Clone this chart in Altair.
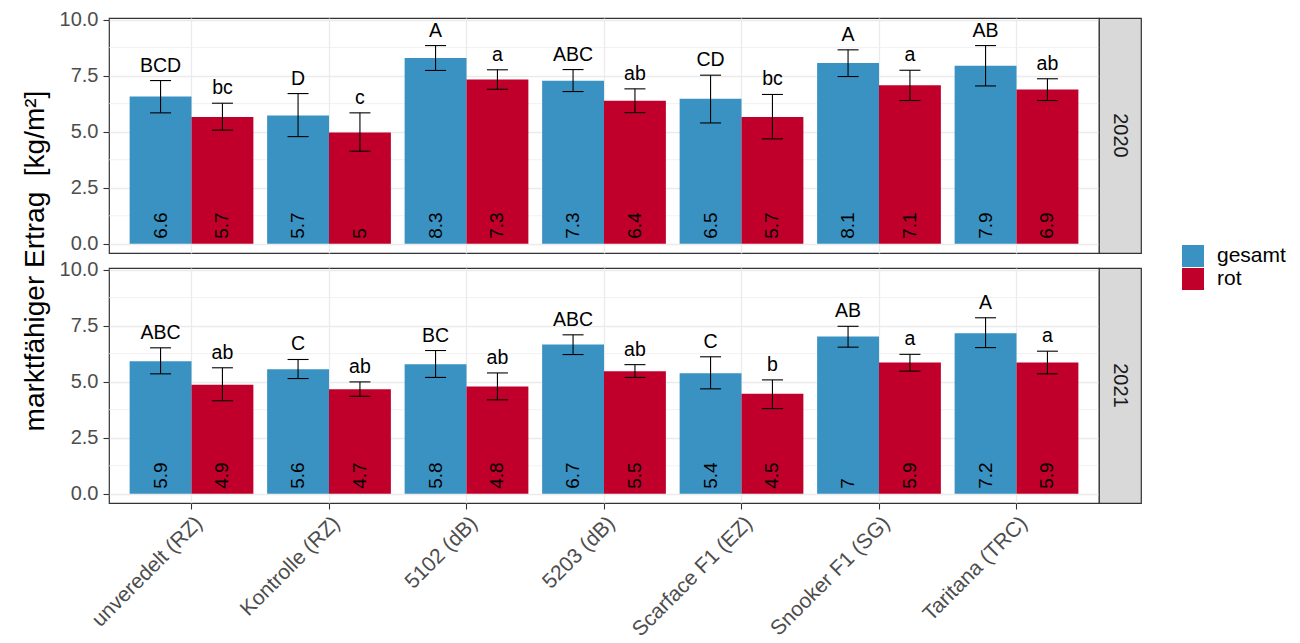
import altair as alt
import pandas as pd

years = ["2020", "2021"]
cats = ["unveredelt (RZ)", "Kontrolle (RZ)", "5102 (dB)", "5203 (dB)",
        "Scarface F1 (EZ)", "Snooker F1 (SG)", "Taritana (TRC)"]
series = ["gesamt", "rot"]
colors = ["#3A92C2", "#C0002A"]

# 2020
g20 = [6.57, 5.72, 8.29, 7.27, 6.47, 8.06, 7.94]
g20_lo = [5.84, 4.78, 7.73, 6.79, 5.39, 7.46, 7.04]
g20_hi = [7.28, 6.70, 8.84, 7.77, 7.52, 8.65, 8.84]
g20_let = ["BCD", "D", "A", "ABC", "CD", "A", "AB"]
r20 = [5.66, 4.96, 7.33, 6.38, 5.66, 7.07, 6.88]
r20_lo = [5.07, 4.13, 6.89, 5.85, 4.68, 6.39, 6.39]
r20_hi = [6.27, 5.84, 7.76, 6.91, 6.66, 7.74, 7.36]
r20_let = ["bc", "c", "a", "ab", "bc", "a", "ab"]
# 2021
g21 = [5.91, 5.56, 5.78, 6.66, 5.38, 7.01, 7.16]
g21_lo = [5.35, 5.14, 5.19, 6.21, 4.68, 6.54, 6.52]
g21_hi = [6.51, 5.99, 6.39, 7.09, 6.11, 7.47, 7.85]
g21_let = ["ABC", "C", "BC", "ABC", "C", "AB", "A"]
r21 = [4.86, 4.66, 4.78, 5.46, 4.46, 5.86, 5.86]
r21_lo = [4.15, 4.35, 4.19, 5.19, 3.80, 5.47, 5.35]
r21_hi = [5.62, 4.99, 5.39, 5.76, 5.08, 6.22, 6.36]
r21_let = ["ab", "ab", "ab", "ab", "b", "a", "a"]

y_ticks = [0, 2.5, 5, 7.5, 10]
y_minor = [1.25, 3.75, 6.25, 8.75]

rows = []
for yr, sets in [("2020", [("gesamt", g20, g20_lo, g20_hi, g20_let), ("rot", r20, r20_lo, r20_hi, r20_let)]),
                 ("2021", [("gesamt", g21, g21_lo, g21_hi, g21_let), ("rot", r21, r21_lo, r21_hi, r21_let)])]:
    for s, vals, lo, hi, let in sets:
        for i, c in enumerate(cats):
            rows.append(dict(year=yr, cat=c, series=s, value=vals[i], lo=lo[i], hi=hi[i],
                             letter=let[i], label=f"{round(vals[i], 1):g}"))
df = pd.DataFrame(rows)
minor_df = pd.DataFrame({"v": y_minor})

FONT = "Liberation Sans"
GRID = "#ebebeb"
PW, PH, SW = 990, 235, 42

yscale = alt.Scale(domain=[-0.41, 10.07], nice=False, zero=False)
xscale = alt.Scale(paddingInner=0.1, paddingOuter=0.15)
offscale = alt.Scale(paddingInner=0, paddingOuter=0)


def panel(year, bottom, top):
    yaxis = alt.Axis(values=y_ticks, format=".1f", grid=True, gridColor=GRID, gridWidth=1.3,
                     domain=False, tickColor="#333333", tickSize=6, tickWidth=1.1,
                     labelColor="#4d4d4d", labelFontSize=20, labelPadding=5,
                     title="marktfähiger Ertrag \u00a0[kg/m²]" if top else None,
                     titleFontSize=28, titleFontWeight="normal", titleColor="black",
                     titlePadding=10,
                     **({"titleY": PH + 7.5} if top else {}))
    if bottom:
        xaxis = alt.Axis(title=None, labelAngle=-45, labelAlign="right", labelBaseline="top",
                         labelFontSize=21, labelColor="#4d4d4d", labelPadding=3,
                         tickColor="#333333", tickSize=6, tickWidth=1.1, domain=False,
                         grid=True, gridColor=GRID, gridWidth=1.3, bandPosition=0.5)
    else:
        xaxis = alt.Axis(title=None, labels=False, ticks=False, domain=False,
                         grid=True, gridColor=GRID, gridWidth=1.3, bandPosition=0.5)

    d = df[df.year == year]
    X = alt.X("cat:N", sort=cats, scale=xscale, axis=xaxis)
    XO = alt.XOffset("series:N", sort=series, scale=offscale)

    minor = alt.Chart(minor_df).mark_rule(color=GRID, strokeWidth=0.7).encode(
        y=alt.Y("v:Q", scale=yscale, axis=yaxis))
    base = alt.Chart(d).encode(x=X, xOffset=XO)
    bars = base.mark_bar().encode(
        y=alt.Y("value:Q", scale=yscale, axis=yaxis),
        color=alt.Color("series:N", sort=series,
                        scale=alt.Scale(domain=series, range=colors),
                        legend=alt.Legend(title=None, orient="none", legendX=1073, legendY=227,
                                          symbolType="square", symbolSize=484,
                                          symbolStrokeWidth=0, symbolOpacity=1,
                                          labelFontSize=21, labelFont=FONT, labelColor="black",
                                          labelOffset=13, rowPadding=1)))
    err = base.mark_rule(color="black", strokeWidth=1.1).encode(
        y=alt.Y("lo:Q", scale=yscale, axis=yaxis), y2="hi:Q")
    cap_lo = base.mark_tick(color="black", size=21, thickness=1.1, opacity=1).encode(
        y=alt.Y("lo:Q", scale=yscale, axis=yaxis))
    cap_hi = base.mark_tick(color="black", size=21, thickness=1.1, opacity=1).encode(
        y=alt.Y("hi:Q", scale=yscale, axis=yaxis))
    letters = base.mark_text(font=FONT, fontSize=19.5, color="black", baseline="alphabetic",
                             dy=-9).encode(
        y=alt.Y("hi:Q", scale=yscale, axis=yaxis), text="letter:N")
    vals = base.mark_text(font=FONT, fontSize=19, color="black", angle=270, align="left",
                          baseline="middle", dx=5).encode(
        y=alt.Y("zero:Q", scale=yscale, axis=yaxis), text="label:N").transform_calculate(zero="0")
    return alt.layer(minor, bars, err, cap_lo, cap_hi, letters, vals).properties(
        width=PW, height=PH,
        view=alt.ViewBackground(fill="white", stroke="#333333", strokeWidth=1.2))


def strip(year):
    return alt.Chart(pd.DataFrame({"year": [year]})).mark_text(
        font=FONT, fontSize=20, color="#1a1a1a", angle=90).encode(
        text="year:N").properties(
        width=SW, height=PH,
        view=alt.ViewBackground(fill="#d9d9d9", stroke="#333333", strokeWidth=1.2))


chart = alt.concat(panel("2020", False, True), strip("2020"),
                   panel("2021", True, False), strip("2021"),
                   columns=2, spacing={"row": 15, "column": 0}, bounds="flush").resolve_scale(
    color="shared").properties(padding={"left": 12, "top": 0, "right": 0, "bottom": 0}).configure(
    font=FONT).configure_view(stroke="#333333")

chart.save("out.html", embed_options={"renderer": "svg", "actions": False})
